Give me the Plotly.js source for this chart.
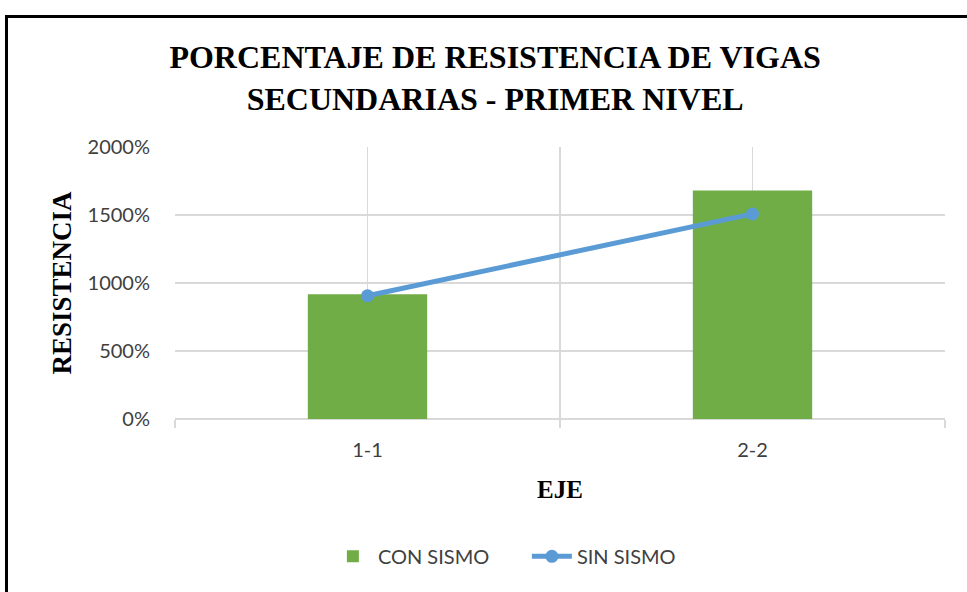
<!DOCTYPE html>
<html><head><meta charset="utf-8">
<script src="https://cdn.plot.ly/plotly-3.0.1.min.js"></script>
<style>
html,body{margin:0;padding:0;background:#fff;}
#wrap{position:relative;width:967px;height:592px;overflow:hidden;}
#chart{position:absolute;left:0;top:0;width:967px;height:592px;}
#frame{position:absolute;left:5px;top:15px;width:980px;height:600px;border-top:3px solid #000;border-left:3px solid #000;pointer-events:none;}
</style></head>
<body><div id="wrap"><div id="chart"></div><div id="frame"></div></div>
<script>
const categories = ['1-1', '2-2'];
const conSismo = [9.17, 16.80];   // fraction (917%, 1680%)
const sinSismo = [9.06, 15.08];
const yTicks = [0, 5, 10, 15, 20];
const yTickText = ['0%', '500%', '1000%', '1500%', '2000%'];
const xIdx = categories.map((c, i) => i);

const grid = '#d9d9d9';
const tickFont = {family: 'Lato, "Open Sans", sans-serif', size: 20, color: '#404040'};
const serif = 'Liberation Serif, "Times New Roman", serif';

const data = [
  {type: 'bar', name: 'CON SISMO', x: xIdx, y: conSismo, marker: {color: '#70AD47'}},
  {type: 'scatter', mode: 'lines+markers', name: 'SIN SISMO', x: xIdx, y: sinSismo,
   line: {color: '#5B9BD5', width: 5}, marker: {color: '#5B9BD5', size: 13}}
];
const layout = {
  width: 967, height: 592,
  margin: {l: 175, r: 22, t: 147, b: 173},
  paper_bgcolor: '#fff', plot_bgcolor: '#fff',
  bargap: 0.69,
  showlegend: true,
  title: {text: '<b>PORCENTAJE DE RESISTENCIA DE VIGAS<br>SECUNDARIAS - PRIMER NIVEL</b>',
    font: {family: serif, size: 32, color: '#000'}, x: 0.512, xref: 'container', xanchor: 'center',
    y: 0.885, yref: 'container', yanchor: 'top'},
  xaxis: {type: 'linear', range: [-0.5, 1.5], tickvals: xIdx, ticktext: categories,
    showgrid: true, gridcolor: grid, gridwidth: 1.8, zeroline: false,
    ticks: 'outside', ticklen: 13, tickcolor: 'rgba(0,0,0,0)', tickfont: tickFont,
    showline: false,
    minor: {tickvals: [-0.5, 0.5, 1.5], showgrid: true, gridcolor: grid, gridwidth: 1.8,
      ticks: 'outside', ticklen: 8, tickcolor: grid, tickwidth: 1.8},
    title: {text: '<b>EJE</b>', font: {family: serif, size: 25, color: '#000'}, standoff: 20}},
  yaxis: {range: [0, 20], tickvals: yTicks, ticktext: yTickText,
    showgrid: true, gridcolor: grid, gridwidth: 1.8, zeroline: true, zerolinecolor: grid, zerolinewidth: 1.8,
    ticks: 'outside', ticklen: 20, tickcolor: 'rgba(0,0,0,0)', tickfont: tickFont,
    title: {text: '<b>RESISTENCIA</b>', font: {family: serif, size: 27, color: '#000'}, standoff: 8}},
  legend: {orientation: 'h', x: 0.457, xanchor: 'center', y: -0.505, yanchor: 'middle',
    font: tickFont, itemwidth: 40, entrywidth: 144}
};
Plotly.newPlot('chart', data, layout, {displayModeBar: false, staticPlot: true});
</script></body></html>
